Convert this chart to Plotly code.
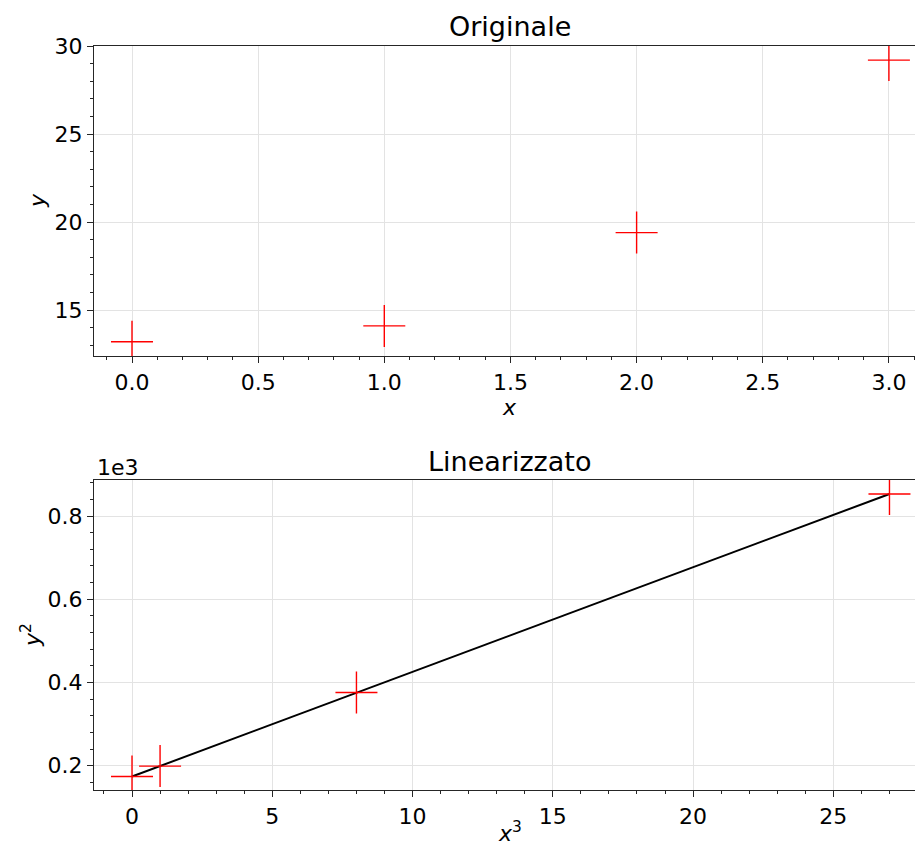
import plotly.graph_objects as go

# ---- data ----
x_orig = [0, 1, 2, 3]
y_orig = [13.2, 14.1, 19.4, 29.2]
x_cube = [0, 1, 8, 27]
y_sq = [174, 199, 376, 853]
fit_x = [0, 27]
fit_y = [174, 853]

W, H = 915, 847
def px(x):
    return x / W
def py(y):
    return 1 - y / H

FONT = "DejaVu Sans"
TICKF = 22
TITLEF = 27
LINEC = "#262626"
GRIDC = "#e3e3e3"
RED = "#ff0000"

fig = go.Figure()
fig.add_trace(go.Scatter(x=x_orig, y=y_orig, mode="markers", xaxis="x", yaxis="y",
                         marker=dict(symbol="cross-thin", size=30, line=dict(color=RED, width=1.4)),
                         showlegend=False))
fig.add_trace(go.Scatter(x=fit_x, y=fit_y, mode="lines", xaxis="x2", yaxis="y2",
                         line=dict(color="black", width=2), showlegend=False))
fig.add_trace(go.Scatter(x=x_cube, y=y_sq, mode="markers", xaxis="x2", yaxis="y2",
                         marker=dict(symbol="cross-thin", size=30, line=dict(color=RED, width=1.4)),
                         showlegend=False))

common_ax = dict(showline=True, linecolor=LINEC, linewidth=1.2, showgrid=True, gridcolor=GRIDC,
                 gridwidth=1, ticks="outside", ticklen=6, tickwidth=1.2, tickcolor=LINEC,
                 zeroline=False, automargin=False, tickfont=dict(family=FONT, size=TICKF, color="black"))

fig.update_layout(
    width=W, height=H, margin=dict(l=0, r=0, t=0, b=0, pad=0), autosize=False,
    paper_bgcolor="white", plot_bgcolor="white",
    font=dict(family=FONT, color="black"),
    xaxis=dict(domain=[px(94), 1], anchor="y", range=[-0.1506, 3.1034], mirror=True,
               tickvals=[0, 0.5, 1, 1.5, 2, 2.5, 3], ticktext=["0.0", "0.5", "1.0", "1.5", "2.0", "2.5", "3.0"],
               minor=dict(dtick=0.1, tick0=0, ticks="outside", ticklen=3, tickcolor=LINEC, showgrid=False),
               **common_ax),
    yaxis=dict(domain=[py(356), py(46)], anchor="x", range=[12.39, 30.0],
               tickvals=[15, 20, 25, 30],
               minor=dict(dtick=1, tick0=0, ticks="outside", ticklen=3, tickcolor=LINEC, showgrid=False),
               **common_ax),
    xaxis2=dict(domain=[px(94), 1], anchor="y2", range=[-1.355, 27.91], mirror=True,
                tickvals=[0, 5, 10, 15, 20, 25],
                minor=dict(dtick=1, tick0=0, ticks="outside", ticklen=3, tickcolor=LINEC, showgrid=False),
                **common_ax),
    yaxis2=dict(domain=[py(790), py(480)], anchor="x2", range=[141.6, 886.6],
                tickvals=[200, 400, 600, 800], ticktext=["0.2", "0.4", "0.6", "0.8"],
                minor=dict(dtick=40, tick0=0, ticks="outside", ticklen=3, tickcolor=LINEC, showgrid=False),
                **common_ax),
)

ann = [
    dict(text="Originale", x=px(510), y=py(26.5), xanchor="center", yanchor="middle", font=dict(size=TITLEF)),
    dict(text="Linearizzato", x=px(510), y=py(461.5), xanchor="center", yanchor="middle", font=dict(size=TITLEF)),
    dict(text="1e3", x=px(95), y=py(467), xanchor="left", yanchor="middle", font=dict(size=TICKF)),
    dict(text="<i>x</i>", x=px(510), y=py(407), xanchor="center", yanchor="middle", font=dict(size=TICKF)),
    dict(text="<i>y</i>", x=px(37), y=py(201), xanchor="center", yanchor="middle", textangle=-90, font=dict(size=TICKF)),
    dict(text="<i>x</i><sup>3</sup>", x=px(510), y=py(832), xanchor="center", yanchor="middle", font=dict(size=TICKF)),
    dict(text="<i>y</i><sup>2</sup>", x=px(31), y=py(635), xanchor="center", yanchor="middle", textangle=-90, font=dict(size=TICKF)),
]
for a in ann:
    a.update(xref="paper", yref="paper", showarrow=False)
    a["font"]["family"] = FONT
    a["font"]["color"] = "black"
fig.update_layout(annotations=ann)

fig.write_html("out.html")
